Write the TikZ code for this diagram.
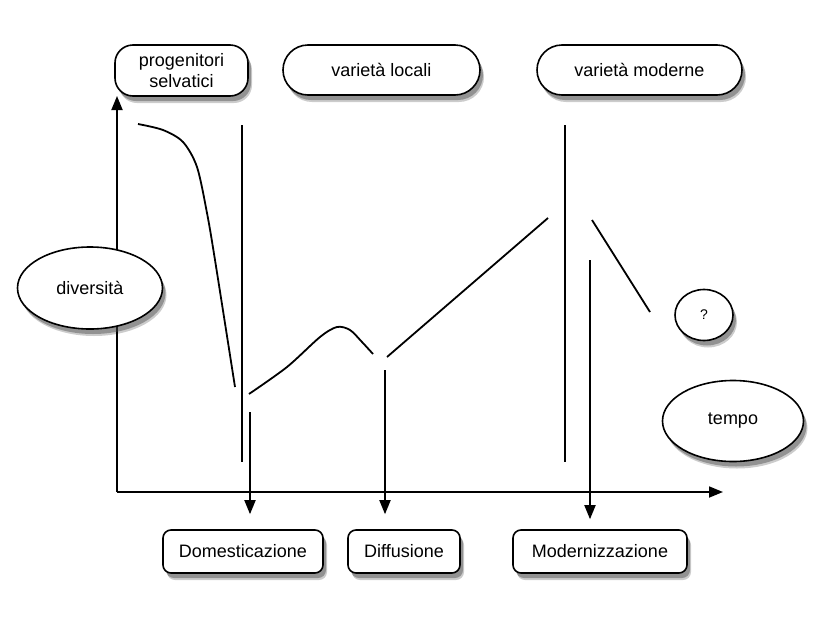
\documentclass[tikz,border=0pt]{standalone}
\usepackage{fontspec}
\setmainfont{Liberation Sans}
\usetikzlibrary{positioning,shapes,arrows.meta,calc,shadows}

\begin{document}
\begin{tikzpicture}[x=1pt, y=-1pt, line width=1.8pt,
  shadowed/.style={drop shadow={shadow xshift=4pt, shadow yshift=-7pt, opacity=0.2, fill=black},
                   drop shadow={shadow xshift=3pt, shadow yshift=-5pt, opacity=0.45, fill=black!70}},
  tag/.style={draw, fill=white, line width=1.6pt, shadowed, align=center, inner sep=0pt,
              font=\fontsize{18}{21}\selectfont},
  pill/.style={tag, rectangle, rounded corners=#1},
  blob/.style={tag, ellipse},
  arr/.style={-{Triangle[length=14pt, width=11pt]}}]
\useasboundingbox (0,0) rectangle (820,635);
% axes
\coordinate (o) at (117,492);
\coordinate (ytip) at (117,96);
\coordinate (xtip) at (723,492);
\draw[arr] (o) -- (ytip);
\draw[arr] (o) -- (xtip);
% labels
\node[pill=18pt, minimum width=133pt, minimum height=51pt] (prog) at (181.5,70.5) {progenitori\\selvatici};
\node[pill=25pt, minimum width=197pt, minimum height=50pt] (loc) at (381.5,70) {varietà locali};
\node[pill=25pt, minimum width=205pt, minimum height=50pt] (mod) at (639.5,70) {varietà moderne};
\node[blob, minimum width=145pt, minimum height=82pt] (div) at (90,288) {diversità};
\node[blob, minimum width=58pt, minimum height=51pt, font=\fontsize{14}{16}\selectfont] (q) at (704,315) {?};
\node[blob, minimum width=141pt, minimum height=81pt] (tempo) at (733,421) {tempo};
\node[pill=8pt, minimum width=160pt, minimum height=43pt] (dom) at (243,551.5) {Domesticazione};
\node[pill=8pt, minimum width=112pt, minimum height=43pt] (diff) at (404,551.5) {Diffusione};
\node[pill=8pt, minimum width=174pt, minimum height=43pt] (modz) at (600,551.5) {Modernizzazione};
% diversity curve
\draw plot[smooth] coordinates {(138,124) (163,130) (183,142) (197,167) (207,213) (215,260) (235,387)};
\draw plot[smooth] coordinates {(249,394) (287,367) (320,337) (337,327) (350,330) (362,342) (373,354)};
\draw (387,357) -- (548,218);
\draw (592,220) -- (650,312);
% phase limits
\draw (242,125) -- (242,462);
\draw (565,125) -- (565,462);
% events
\coordinate (e1) at (250,412);
\coordinate (e2) at (385,370);
\coordinate (e3) at (590,260);
\draw[arr] (e1) -- ($(dom.north -| e1)+(0,-15)$);
\draw[arr] (e2) -- ($(diff.north -| e2)+(0,-15)$);
\draw[arr] (e3) -- ($(modz.north -| e3)+(0,-10)$);
\end{tikzpicture}
\end{document}
